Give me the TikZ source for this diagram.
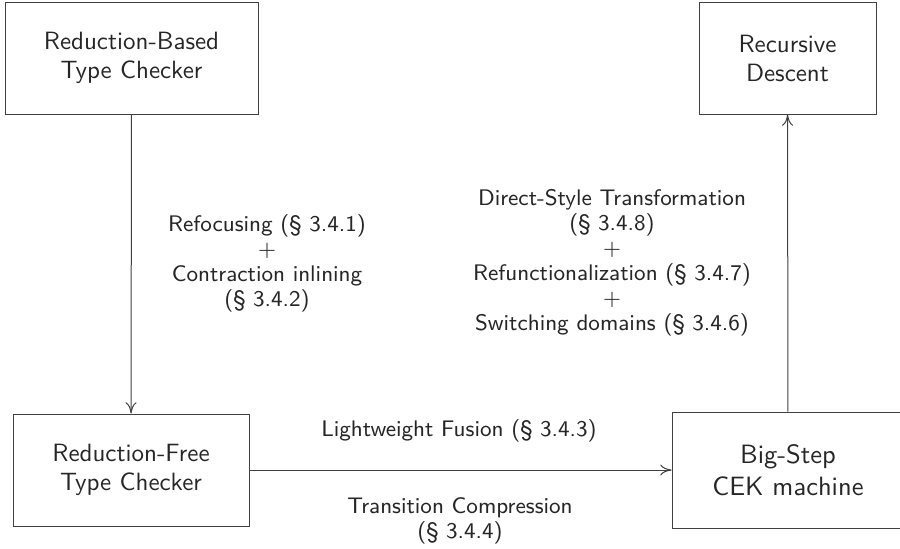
\documentclass[tikz,border=0pt]{standalone}
\usepackage{fontspec}
\usetikzlibrary{arrows.meta}
\begin{document}
\begin{tikzpicture}[x=0.4pt,y=-0.4pt,
  box/.style={draw=black!75, line width=0.4pt, rectangle, align=center,
    font=\sffamily\fontsize{10}{11.6}\selectfont, text=black!85, inner sep=0pt},
  lbl/.style={align=center, font=\sffamily\fontsize{9}{10}\selectfont, text=black!85},
  conn/.style={draw=black!75, line width=0.4pt, -{To[length=4.5pt,width=4.4pt]}}]
\useasboundingbox (0,0) rectangle (900,548);
% boxes
\node[box, minimum width=253*0.4pt, minimum height=112*0.4pt] (rb) at (131.5,58) {Reduction-Based\\Type Checker};
\node[box, minimum width=177*0.4pt, minimum height=112*0.4pt] (rd) at (787.5,58) {Recursive\\Descent};
\node[box, minimum width=236*0.4pt, minimum height=112*0.4pt] (rf) at (131,470) {Reduction-Free\\Type Checker};
\node[box, minimum width=232*0.4pt, minimum height=116*0.4pt,
  font=\sffamily\fontsize{10.6}{12.8}\selectfont] (cek) at (788,470) {Big-Step\\CEK machine};
% connectors
\draw[conn] (rb) -- (rf);
\draw[conn] (rf) -- (cek);
\draw[conn] (cek) -- (rd);
% labels
\node[lbl] (l1) at (267,263) {Refocusing (\S\ 3.4.1)\\$+$\\Contraction inlining\\(\S\ 3.4.2)};
\node[lbl] (l2) at (612,263) {Direct-Style Transformation\\(\S\ 3.4.8)\\$+$\\Refunctionalization (\S\ 3.4.7)\\$+$\\Switching domains (\S\ 3.4.6)};
\node[lbl] (l3) at (459,431) {Lightweight Fusion (\S\ 3.4.3)};
\node[lbl] (l4) at (460,520.5) {Transition Compression\\(\S\ 3.4.4)};
\end{tikzpicture}
\end{document}
